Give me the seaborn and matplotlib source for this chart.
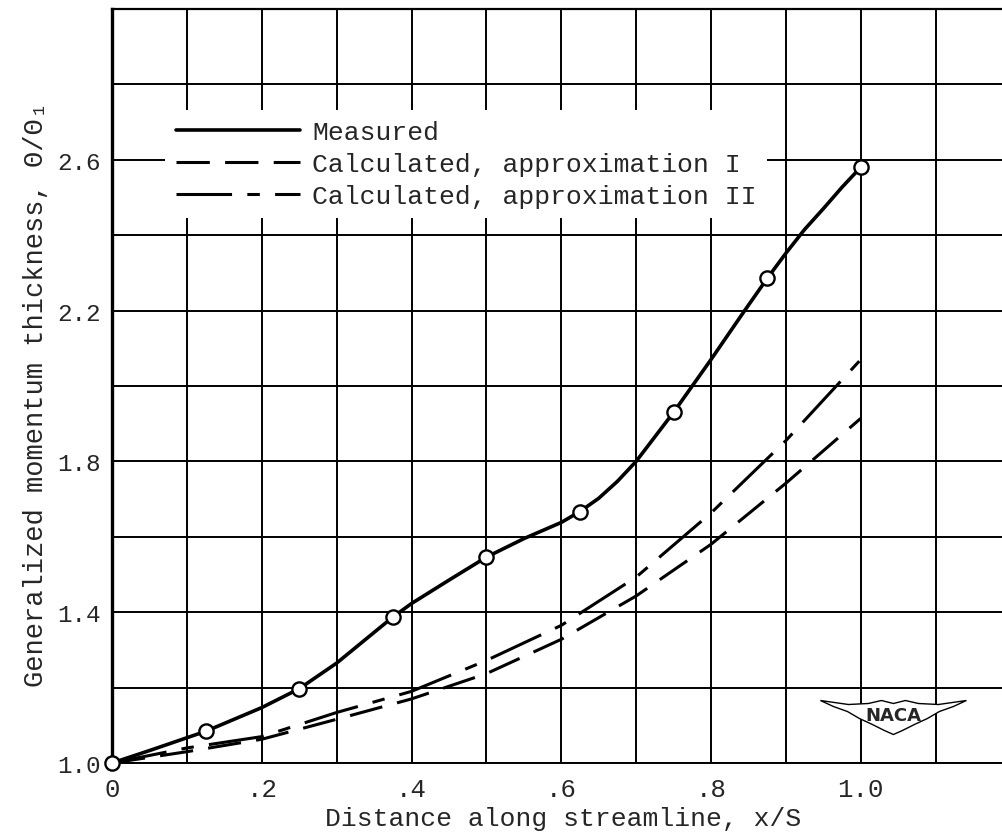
import numpy as np
import pandas as pd
import matplotlib
matplotlib.use("Agg")
import matplotlib.pyplot as plt
import seaborn as sns
from matplotlib.patches import Polygon

# ---------------- data ----------------
measured_x = [0.0, 0.125, 0.25, 0.375, 0.5, 0.625, 0.75, 0.875, 1.0]
measured_y = [1.0, 1.084, 1.197, 1.387, 1.546, 1.667, 1.93, 2.285, 2.58]

# points read along the faired "Measured" curve
curve_x = [0.0, 0.05, 0.1, 0.125, 0.2, 0.25, 0.3, 0.375, 0.4, 0.45, 0.5,
           0.55, 0.6, 0.625, 0.65, 0.675, 0.7, 0.75, 0.8, 0.845, 0.875, 0.9,
           0.925, 0.95, 0.975, 1.0]
curve_y = [1.0, 1.033, 1.067, 1.084, 1.147, 1.197, 1.265, 1.387, 1.423, 1.485, 1.546,
           1.595, 1.638, 1.667, 1.702, 1.747, 1.80, 1.93, 2.07, 2.2, 2.285, 2.352,
           2.415, 2.47, 2.527, 2.58]

approx_x = [0.0, 0.1, 0.2, 0.3, 0.4, 0.5, 0.6, 0.7, 0.8, 0.9, 1.0]
approx1_y = [1.0, 1.03, 1.063, 1.116, 1.17, 1.237, 1.328, 1.443, 1.58, 1.742, 1.914]
approx2_y = [1.0, 1.04, 1.07, 1.134, 1.19, 1.272, 1.365, 1.493, 1.663, 1.855, 2.07]

labels = ["Measured", "Calculated, approximation I", "Calculated, approximation II"]

x_ticks = [0.0, 0.2, 0.4, 0.6, 0.8, 1.0]
x_tick_labels = ["0", ".2", ".4", ".6", ".8", "1.0"]
x_grid_minor = [0.1, 0.3, 0.5, 0.7, 0.9, 1.1]
y_ticks = [1.0, 1.4, 1.8, 2.2, 2.6]
y_tick_labels = ["1.0", "1.4", "1.8", "2.2", "2.6"]
y_grid_minor = [1.2, 1.6, 2.0, 2.4, 2.8, 3.0]

x_label = "Distance along streamline, x/S"
y_label = "Generalized momentum thickness, \u0398/\u0398\u2081"

# ---------------- style ----------------
sns.set_style("white")
plt.rcParams["font.family"] = ["Liberation Mono", "DejaVu Sans Mono"]
plt.rcParams["lines.scale_dashes"] = False

fig = plt.figure(figsize=(10.03, 8.37), dpi=100)
ax = fig.add_axes([0.1117, 0.0872, 0.8883, 0.901])

df_curve = pd.DataFrame({"x": curve_x, "y": curve_y})
df_pts = pd.DataFrame({"x": measured_x, "y": measured_y})
df_a1 = pd.DataFrame({"x": approx_x, "y": approx1_y})
df_a2 = pd.DataFrame({"x": approx_x, "y": approx2_y})

sns.lineplot(data=df_curve, x="x", y="y", ax=ax, color="black", lw=2.6,
             label=labels[0], errorbar=None, zorder=3)
sns.lineplot(data=df_a1, x="x", y="y", ax=ax, color="black", lw=2.2,
             linestyle=(0, (24, 11)), label=labels[1], errorbar=None, zorder=3)
sns.lineplot(data=df_a2, x="x", y="y", ax=ax, color="black", lw=2.2,
             linestyle=(0, (40, 11, 9, 11)), label=labels[2], errorbar=None, zorder=3)
sns.scatterplot(data=df_pts, x="x", y="y", ax=ax, marker="o", s=105,
                facecolor="white", edgecolor="black", linewidth=1.7,
                zorder=4, clip_on=False, legend=False)

ax.set_xlim(0, 1.19)
ax.set_ylim(1.0, 3.0)
ax.set_xticks(x_ticks)
ax.set_xticklabels(x_tick_labels, fontsize=18.5)
ax.set_xticks(x_grid_minor, minor=True)
ax.set_yticks(y_ticks)
ax.set_yticklabels(y_tick_labels, fontsize=17.5)
ax.set_yticks(y_grid_minor, minor=True)
ax.tick_params(which="both", length=0)
ax.tick_params(axis="x", pad=10)
ax.tick_params(axis="y", pad=8)
ax.grid(True, which="both", color="black", lw=1.4)
ax.set_axisbelow(True)

ax.spines["right"].set_visible(False)
ax.spines["left"].set_linewidth(2.4)
ax.spines["top"].set_linewidth(1.6)
ax.spines["bottom"].set_linewidth(1.4)
for s in ax.spines.values():
    s.set_color("black")

ax.set_xlabel(x_label, fontsize=19)
ax.set_ylabel(y_label, fontsize=19.5)
ax.xaxis.set_label_coords(0.506, -0.057)
ax.yaxis.set_label_coords(-0.071, 0.49)

handles, labs = ax.get_legend_handles_labels()
leg = ax.legend(handles, labs, loc="upper left", bbox_to_anchor=(0.06, 0.866),
                fontsize=19, frameon=True, facecolor="white", edgecolor="none",
                framealpha=1, fancybox=False, borderpad=0.4, borderaxespad=0,
                handlelength=4.7, handletextpad=0.45, labelspacing=0.29)
leg.set_zorder(5)

# NACA emblem (decoration) in axes-fraction coordinates
cx, cy = 0.877, 0.063
W, H = 891.0, 754.0
wing_px = [(-73, 15), (-45, 11), (-25, 12), (-12, 15), (0, 12), (12, 15), (25, 12),
           (45, 11), (73, 15), (60, 9), (46, 4), (34, -3), (21, -9), (9, -15),
           (0, -19), (-9, -15), (-21, -9), (-34, -3), (-46, 4), (-60, 9)]
wing = [(cx + dx / W, cy + dy / H) for dx, dy in wing_px]
ax.add_patch(Polygon(wing, closed=True, transform=ax.transAxes, facecolor="white",
                     edgecolor="black", lw=1.0, zorder=5))
ax.text(cx, cy + 1 / H, "NACA", transform=ax.transAxes, ha="center", va="center",
        fontsize=13, fontweight="bold", family="DejaVu Sans", zorder=6)

fig.savefig("out.png", dpi=100)
